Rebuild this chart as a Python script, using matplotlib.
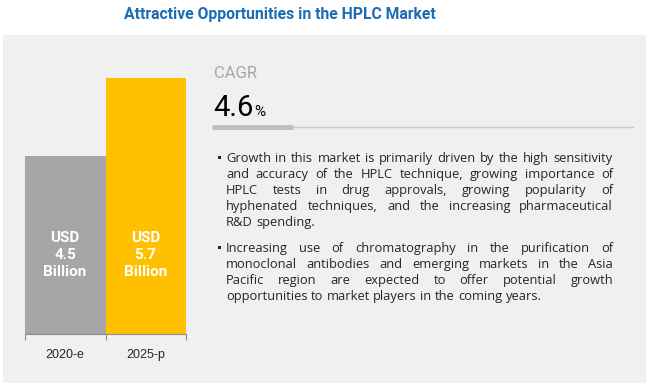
import matplotlib
matplotlib.use("Agg")
import matplotlib.pyplot as plt
from matplotlib.patches import Rectangle

# data
years = ["2020-e", "2025-p"]
market_size = [4.5, 5.7]
bar_colors = ["#a6a6a6", "#ffc000"]
cagr = "4.6"

title = "Attractive Opportunities in the HPLC Market"

bullet_1 = [
    "Growth in this market is primarily driven by the high sensitivity",
    "and accuracy of the HPLC technique, growing importance of",
    "HPLC tests in drug approvals, growing popularity of",
    "hyphenated techniques, and the increasing pharmaceutical",
    "R&D spending.",
]
bullet_2 = [
    "Increasing use of chromatography in the purification of",
    "monoclonal antibodies and emerging markets in the Asia",
    "Pacific region are expected to offer potential growth",
    "opportunities to market players in the coming years.",
]

NARROW = ["Roboto", "DejaVu Sans"]
BODY = ["Open Sans", "DejaVu Sans"]
TEXT_COLOR = "#262626"


def text_width(ax, renderer, s, fontsize, family):
    t = ax.text(0, 0, s, fontsize=fontsize, family=family)
    w = t.get_window_extent(renderer).width
    t.remove()
    return w


def draw_justified(ax, renderer, lines, x0, x1, y0, step, fontsize):
    """ draws the lines word by word, every line except the last is spread to x1 """
    space = text_width(ax, renderer, "a a", fontsize, BODY) - 2 * text_width(ax, renderer, "a", fontsize, BODY)
    for i, line in enumerate(lines):
        y = y0 + i * step
        words = line.split(" ")
        texts = [ax.text(0, y, w, fontsize=fontsize, family=BODY, color=TEXT_COLOR,
                         ha="left", va="baseline") for w in words]
        widths = [t.get_window_extent(renderer).width for t in texts]
        if i < len(lines) - 1 and len(words) > 1:
            gap = (x1 - x0 - sum(widths)) / (len(words) - 1)
        else:
            gap = space
        x = x0
        for t, w in zip(texts, widths):
            t.set_x(x)
            x += w + gap


fig = plt.figure(figsize=(6.5, 3.86), dpi=100, facecolor="white")
fig.patches.append(Rectangle((3 / 650, 3 / 386), 643 / 650, 348 / 386, transform=fig.transFigure,
                             facecolor="#f0f0f0", edgecolor="none", zorder=-1))

# bar chart
ax = fig.add_axes([25 / 650, (386 - 334) / 386, (186 - 25) / 650, (334 - 78) / 386], zorder=1)
ax.patch.set_visible(False)
x = range(len(years))
ax.bar(x, market_size, width=1.0, color=bar_colors, bottom=0)
ax.set_xlim(-0.5, 1.5)
ax.set_ylim(1.76, 5.7)
for s in ("top", "right", "left"):
    ax.spines[s].set_visible(False)
ax.spines["bottom"].set_color("#8c8c8c")
ax.set_yticks([])
ax.set_xticks([-0.5, 0.5, 1.5])
ax.set_xticklabels([])
ax.tick_params(axis="x", which="major", length=4, color="#8c8c8c")
ax.set_xticks(list(x), minor=True)
ax.set_xticklabels(years, minor=True, fontsize=9, family=["Liberation Sans", "DejaVu Sans"], color=TEXT_COLOR)
ax.tick_params(axis="x", which="minor", length=0, pad=11)

# overlay in pixel coordinates (y goes down)
ov = fig.add_axes([0, 0, 1, 1], zorder=2)
ov.set_xlim(0, 650)
ov.set_ylim(386, 0)
ov.axis("off")
renderer = fig.canvas.get_renderer()

ov.text(280, 14, title, fontsize=11.3, fontweight="bold", family=NARROW,
        color="#1a6db4", ha="center", va="center")

for i, v in enumerate(market_size):
    ov.text(25 + 80.5 * i + 40, 255, "USD\n%.1f\nBillion" % v, fontsize=11, fontweight="bold",
            family=NARROW, color="white", ha="center", va="center", linespacing=1.3)

# CAGR block
ov.text(214, 74, "CAGR", fontsize=12, family=NARROW, color="#a6a6a6", ha="left", va="center")
t = ov.text(213, 116, cagr, fontsize=21, family=NARROW, color="black", ha="left", va="baseline")
w = t.get_window_extent(renderer).width
ov.text(213 + w + 1, 116, "%", fontsize=11, family=NARROW, color="black", ha="left", va="baseline")
ov.plot([293, 634], [127, 127], color="#c8c8c8", lw=1, solid_capstyle="butt")
ov.plot([212, 293], [127, 127], color="#bfbfbf", lw=3.5, solid_capstyle="butt")

# bullets
for by in (158, 248):
    ov.add_patch(Rectangle((217.5, by - 2), 3, 3, facecolor=TEXT_COLOR, edgecolor="none"))
draw_justified(ov, renderer, bullet_1, 226, 613, 162, 16, 9.3)
draw_justified(ov, renderer, bullet_2, 226, 613, 252, 16, 9.3)

plt.savefig("out.png", dpi=100, facecolor="white")
